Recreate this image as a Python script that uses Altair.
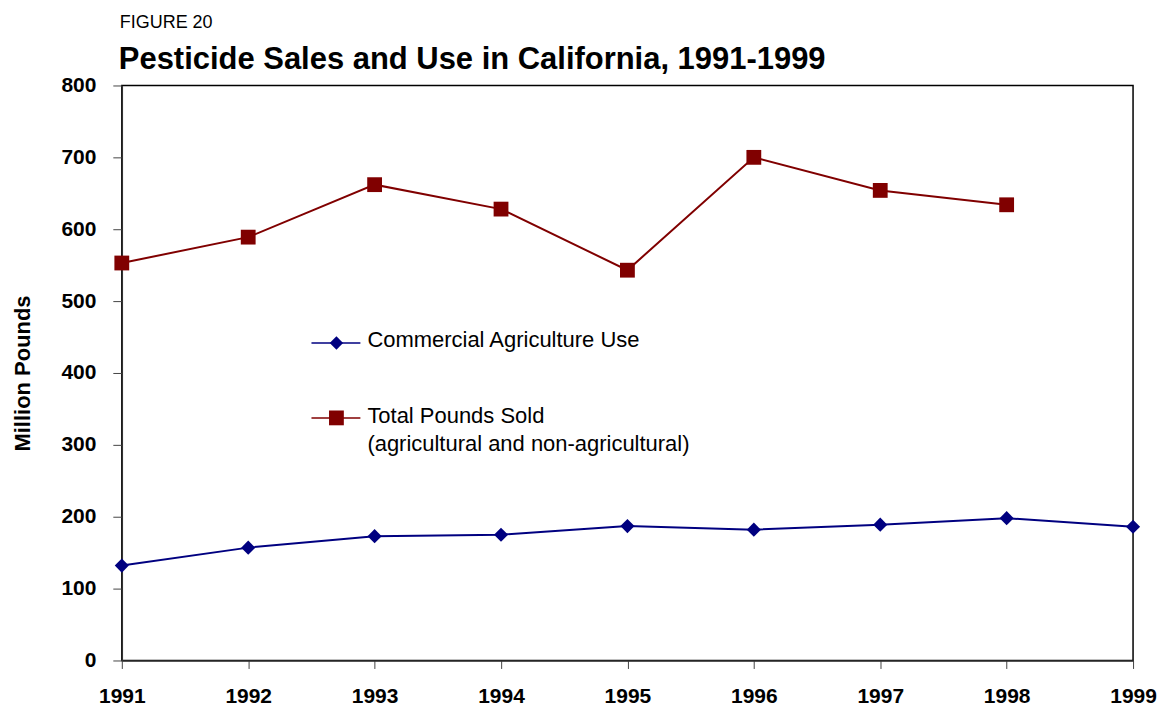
import altair as alt
import pandas as pd

years = [1991, 1992, 1993, 1994, 1995, 1996, 1997, 1998, 1999]
commercial_use = [132, 157, 173, 175, 187, 182, 189, 198, 186]
total_sold = [553, 589, 662, 628, 543, 700, 654, 634, None]
y_ticks = [0, 100, 200, 300, 400, 500, 600, 700, 800]

series_names = ["Commercial Agriculture Use", "Total Pounds Sold"]
legend_sub = "(agricultural and non-agricultural)"

rows = []
for yr, c, t in zip(years, commercial_use, total_sold):
    rows.append({"year": yr, "value": c, "series": series_names[0]})
    if t is not None:
        rows.append({"year": yr, "value": t, "series": series_names[1]})
df = pd.DataFrame(rows)

NAVY = "#000080"
MAROON = "#800000"
FONT = "Liberation Sans"

x_enc = alt.X(
    "year:Q",
    scale=alt.Scale(domain=[1991, 1999], nice=False, zero=False),
    axis=alt.Axis(
        values=years, format="d", title=None, grid=False,
        labelFont=FONT, labelFontSize=21, labelFontWeight="bold", labelColor="black",
        labelPadding=17, tickSize=8, tickColor="#444", domainColor="#333",
        domainWidth=1.5, labelFlush=False,
    ),
)
y_enc = alt.Y(
    "value:Q",
    scale=alt.Scale(domain=[0, 800], nice=False),
    axis=alt.Axis(
        values=y_ticks, title="Million Pounds", grid=False,
        labelFont=FONT, labelFontSize=21, labelFontWeight="bold", labelColor="black",
        labelPadding=17, tickSize=9, tickColor="#444", domainColor="#333",
        domainWidth=1.5,
        titleFont=FONT, titleFontSize=22, titleFontWeight="bold", titleColor="black",
        titleAngle=270, titleX=-92, titleY=288, titleAlign="center",
        titleBaseline="alphabetic",
    ),
)

base = alt.Chart(df)

comm = base.transform_filter(alt.datum.series == series_names[0])
tot = base.transform_filter(alt.datum.series == series_names[1])

comm_line = comm.mark_line(color=NAVY, strokeWidth=2).encode(x=x_enc, y=y_enc)
comm_pts = comm.mark_point(shape="diamond", filled=True, size=200, color=NAVY, opacity=1).encode(x=x_enc, y=y_enc)
tot_line = tot.mark_line(color=MAROON, strokeWidth=2).encode(x=x_enc, y=y_enc)
tot_pts = tot.mark_point(shape="square", filled=True, size=220, color=MAROON, opacity=1).encode(x=x_enc, y=y_enc)

one = alt.Chart(pd.DataFrame({"k": [0]}))

leg1_rule = one.mark_rule(color=NAVY, strokeWidth=1.5).encode(
    x=alt.value(190), x2=alt.value(239), y=alt.value(258))
leg1_pt = one.mark_point(shape="diamond", filled=True, size=180, color=NAVY, opacity=1).encode(
    x=alt.value(215), y=alt.value(258))
leg1_txt = one.mark_text(align="left", baseline="alphabetic", font=FONT, fontSize=22, color="black").encode(
    x=alt.value(246), y=alt.value(262), text=alt.value(series_names[0]))

leg2_rule = one.mark_rule(color=MAROON, strokeWidth=1.5).encode(
    x=alt.value(190), x2=alt.value(239), y=alt.value(333))
leg2_pt = one.mark_point(shape="square", filled=True, size=220, color=MAROON, opacity=1).encode(
    x=alt.value(215), y=alt.value(333))
leg2_txt = one.mark_text(align="left", baseline="alphabetic", font=FONT, fontSize=22, color="black").encode(
    x=alt.value(246), y=alt.value(338), text=alt.value(series_names[1]))
leg2_txt2 = one.mark_text(align="left", baseline="alphabetic", font=FONT, fontSize=22, color="black").encode(
    x=alt.value(246), y=alt.value(366), text=alt.value(legend_sub))

fig_txt = one.mark_text(align="left", baseline="alphabetic", font=FONT, fontSize=18, color="black").encode(
    x=alt.value(-2), y=alt.value(-58), text=alt.value("FIGURE 20"))
title_txt = one.mark_text(align="left", baseline="alphabetic", font=FONT, fontSize=31,
                          fontWeight="bold", color="black").encode(
    x=alt.value(-3), y=alt.value(-17), text=alt.value("Pesticide Sales and Use in California, 1991-1999"))

chart = alt.layer(
    comm_line, comm_pts, tot_line, tot_pts,
    leg1_rule, leg1_pt, leg1_txt, leg2_rule, leg2_pt, leg2_txt, leg2_txt2,
    fig_txt, title_txt,
).properties(
    width=1013, height=576,
    autosize=alt.AutoSizeParams(type="none"),
    padding={"left": 114, "top": 77, "right": 30, "bottom": 48},
    background="white",
).configure_view(
    stroke="black", strokeWidth=1.5,
)

chart.save("out.html", embed_options={"renderer": "svg", "actions": False})
